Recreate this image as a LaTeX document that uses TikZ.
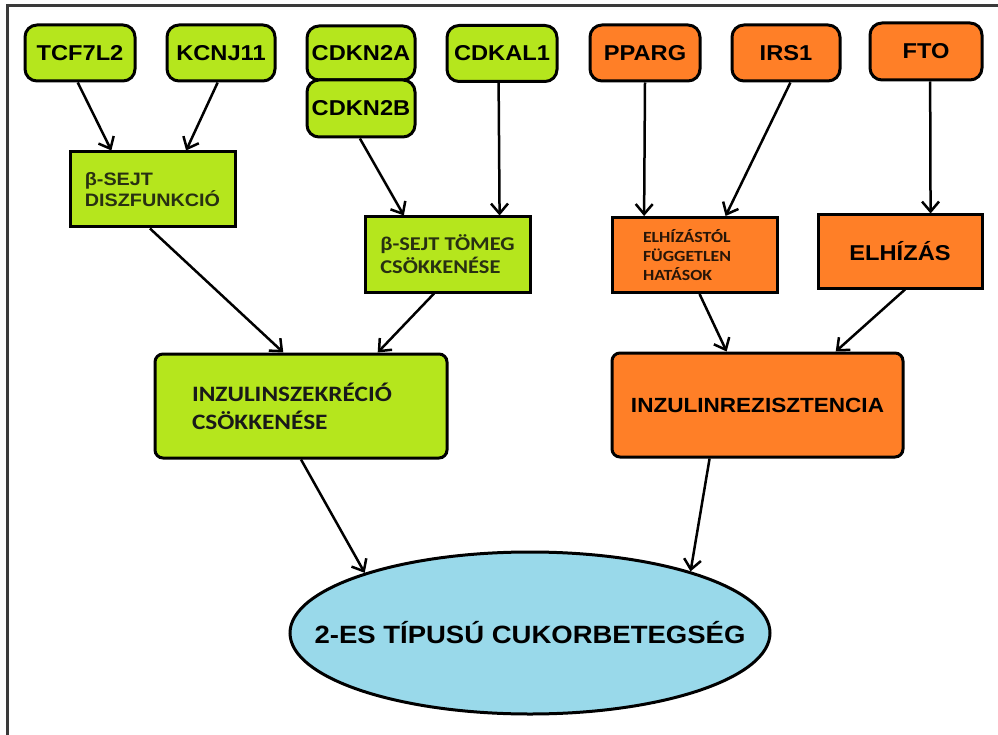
\documentclass[tikz,border=0pt]{standalone}
\usepackage{fontspec}
\usetikzlibrary{shapes.geometric,arrows.meta,calc}

% Fonts: a slightly widened Arial-like sans and a Calibri-like sans
\newfontfamily\arialfont{Liberation Sans}[FakeStretch=1.1]
\newfontfamily\calfont{Carlito}[FakeStretch=1.15]

\definecolor{limefill}{HTML}{B5E61D}
\definecolor{orangefill}{HTML}{FF7F27}
\definecolor{bluefill}{HTML}{99D9EA}
\definecolor{framegray}{HTML}{3A3A3A}
\definecolor{olivetext}{RGB}{40,48,18}
\definecolor{browntext}{RGB}{40,22,8}

\begin{document}
\begin{tikzpicture}[x=1pt,y=-1pt,
  box/.style={draw=black, line width=3pt, inner sep=0pt},
  gene/.style={box, rounded corners=12pt, minimum width=110pt, minimum height=56pt,
    font=\arialfont\bfseries\fontsize{21.5}{25}\selectfont, text=black},
  greengene/.style={gene, fill=limefill},
  orangegene/.style={gene, fill=orangefill},
  effectbox/.style={box, minimum width=165pt, minimum height=75pt, align=left},
  mainbox/.style={box, rounded corners=8pt, minimum width=292pt, minimum height=104pt},
  arr/.style={line width=2.5pt, -{Straight Barb[length=10pt,width=17pt]}}
]
\useasboundingbox (0,0) rectangle (998,735);

% outer frame (top and left edges)
\draw[framegray, line width=3pt] (7,735) -- (7,6) -- (998,6);

% genes
\node[greengene] (tcf) at (80,53) {TCF7L2};
\node[greengene, minimum width=108pt] (kcnj) at (221,53) {KCNJ11};
\node[greengene, minimum width=108pt, minimum height=54pt] (cdkna) at (361,53) {CDKN2A};
\node[greengene, minimum width=108pt, minimum height=57pt] (cdknb) at (361,108.5) {CDKN2B};
\node[greengene] (cdkal) at (502,53.5) {CDKAL1};
\node[orangegene] (pparg) at (645,53) {PPARG};
\node[orangegene, minimum width=108pt] (irs) at (786,53) {IRS1};
\node[orangegene, minimum width=112pt, minimum height=57pt] (fto) at (926,51.5) {FTO};

% intermediate effects
\node[effectbox, fill=limefill, text=olivetext,
  font=\arialfont\bfseries\fontsize{18}{21}\selectfont] (bdisz) at (152.5,189.5)
  {β-SEJT\\DISZFUNKCIÓ};
\node[effectbox, fill=limefill, text=olivetext,
  font=\calfont\bfseries\fontsize{19.5}{23}\selectfont] (btom) at (447.5,254.5)
  {β-SEJT TÖMEG\\CSÖKKENÉSE};
\node[effectbox, fill=orangefill, text=browntext, inner xsep=31pt, text width=103pt,
  font=\calfont\bfseries\fontsize{15.5}{19}\selectfont] (elht) at (694.5,255)
  {ELHÍZÁSTÓL\\FÜGGETLEN\\HATÁSOK};
\node[box, fill=orangefill, minimum width=164pt, minimum height=73pt,
  font=\arialfont\bfseries\fontsize{21.5}{25}\selectfont] (elh) at (900,251.5) {ELHÍZÁS};

% main mechanisms
\node[mainbox, fill=limefill, align=left, inner xsep=37pt, text width=218pt,
  font=\calfont\bfseries\fontsize{22}{28}\selectfont, text=black!90] (inz) at (301,406)
  {INZULINSZEKRÉCIÓ\\CSÖKKENÉSE};
\node[mainbox, fill=orangefill, minimum width=291pt,
  font=\arialfont\bfseries\fontsize{20.5}{24}\selectfont] (inzr) at (757.5,405)
  {INZULINREZISZTENCIA};

% outcome
\node[ellipse, draw=black, line width=3pt, fill=bluefill, inner sep=0pt,
  minimum width=480pt, minimum height=162pt,
  label={[font=\arialfont\bfseries\fontsize{25}{29}\selectfont, text=black]center:2-ES TÍPUSÚ CUKORBETEGSÉG}]
  (t2d) at (530,633) {};

% gene -> effect arrows
\draw[arr] ($(tcf.south west)!0.48!(tcf.south east)$) -- ($(bdisz.north west)!0.255!(bdisz.north east)$);
\draw[arr] ($(kcnj.south west)!0.47!(kcnj.south east)$) -- ($(bdisz.north west)!0.70!(bdisz.north east)$);
\draw[arr] ($(cdknb.south west)!0.49!(cdknb.south east)$) -- ($(btom.north west)!0.24!(btom.north east)$);
\draw[arr] ($(cdkal.south west)!0.47!(cdkal.south east)$) -- ($(btom.north west)!0.81!(btom.north east)$);
\draw[arr] ($(pparg.south west)!0.5!(pparg.south east)$) -- ($(elht.north west)!0.20!(elht.north east)$);
\draw[arr] ($(irs.south west)!0.54!(irs.south east)$) -- ($(elht.north west)!0.685!(elht.north east)$);
\draw[arr] ($(fto.south west)!0.536!(fto.south east)$) -- ($(elh.north west)!0.683!(elh.north east)$);

% effect -> mechanism arrows
\draw[arr] ($(bdisz.south west)!0.485!(bdisz.south east)$) -- ($(inz.north west)!0.44!(inz.north east)$);
\draw[arr] ($(btom.south west)!0.42!(btom.south east)$) -- ($(inz.north west)!0.76!(inz.north east)$);
\draw[arr] ($(elht.south west)!0.53!(elht.south east)$) -- ($(inzr.north west)!0.395!(inzr.north east)$);
\draw[arr] ($(elh.south west)!0.53!(elh.south east)$) -- ($(inzr.north west)!0.766!(inzr.north east)$);

% mechanism -> disease arrows
\draw[arr] ($(inz.south west)!0.50!(inz.south east)$) -- (t2d.160);
\draw[arr] ($(inzr.south west)!0.337!(inzr.south east)$) -- (t2d.21.7);
\end{tikzpicture}
\end{document}
